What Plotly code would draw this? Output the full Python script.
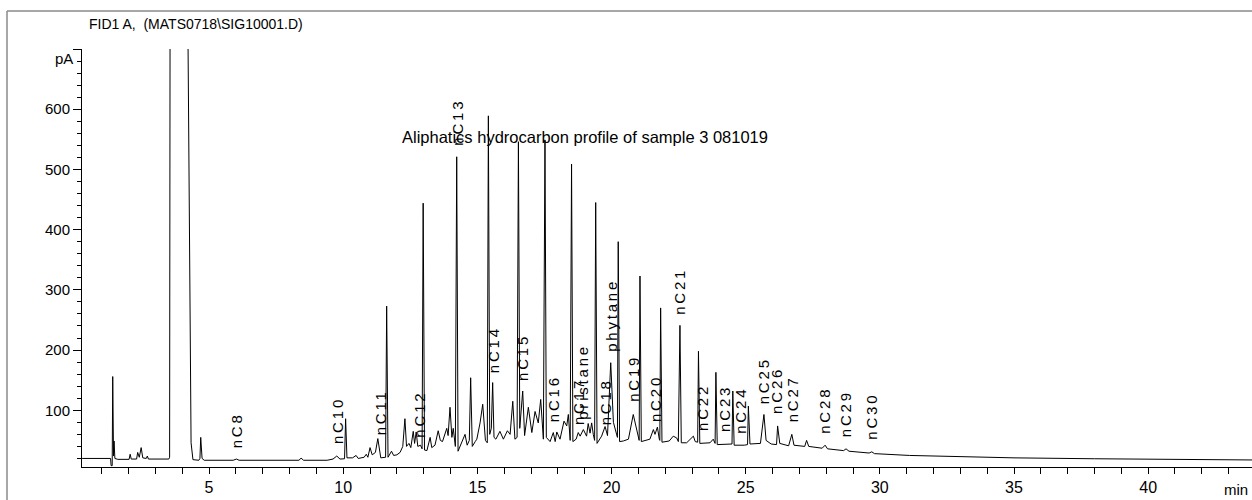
import plotly.graph_objects as go

# ---- chromatogram trace vertices (retention time in min, signal in pA) ----
rt = [0.27, 1.33, 1.35, 1.39, 1.41, 1.44, 1.46, 1.49, 1.60, 2.02, 2.06, 2.10, 2.30, 2.34, 2.40,
      2.47, 2.53, 2.66, 2.70, 2.74, 3.50, 3.53, 3.60, 4.21, 4.28, 4.33, 4.40, 4.62, 4.66, 4.69,
      4.74, 4.82, 5.90, 6.02, 6.12, 8.35, 8.43, 8.52, 9.40, 9.62, 9.76, 9.88, 10.05, 10.09, 10.14,
      10.35, 10.48, 10.56, 10.78, 10.86, 10.92, 11.00, 11.08, 11.20, 11.29, 11.40, 11.58, 11.62,
      11.67, 11.80, 11.88, 12.00, 12.12, 12.22, 12.30, 12.36, 12.45, 12.52, 12.61, 12.66, 12.72,
      12.78, 12.88, 12.94, 12.98, 13.03, 13.12, 13.24, 13.30, 13.42, 13.54, 13.62, 13.70, 13.80,
      13.86, 13.91, 13.98, 14.05, 14.10, 14.18, 14.23, 14.28, 14.36, 14.54, 14.62, 14.70, 14.75,
      14.81, 14.92, 14.98, 15.10, 15.20, 15.30, 15.37, 15.41, 15.46, 15.52, 15.57, 15.62, 15.69,
      15.84, 15.97, 16.12, 16.22, 16.32, 16.40, 16.48, 16.53, 16.58, 16.69, 16.76, 16.90, 17.03,
      17.15, 17.27, 17.36, 17.46, 17.52, 17.57, 17.71, 17.83, 17.90, 17.96, 18.08, 18.23, 18.33,
      18.39, 18.46, 18.51, 18.56, 18.68, 18.76, 18.83, 18.95, 19.07, 19.13, 19.20, 19.26, 19.32,
      19.37, 19.41, 19.46, 19.63, 19.76, 19.85, 19.97, 20.07, 20.19, 20.22, 20.25, 20.30, 20.44,
      20.63, 20.81, 20.94, 21.03, 21.06, 21.11, 21.43, 21.56, 21.62, 21.71, 21.78, 21.80, 21.83,
      21.88, 22.15, 22.30, 22.43, 22.49, 22.55, 22.60, 22.80, 22.93, 23.05, 23.12, 23.21, 23.24,
      23.29, 23.67, 23.79, 23.86, 23.89, 23.94, 24.35, 24.49, 24.52, 24.57, 24.95, 25.07, 25.10,
      25.16, 25.55, 25.68, 25.76, 25.95, 26.15, 26.19, 26.27, 26.60, 26.72, 26.80, 27.20, 27.27,
      27.35, 27.85, 27.96, 28.05, 28.65, 28.74, 28.85, 29.60, 29.70, 29.80, 31.10, 33.00, 35.00,
      38.00, 40.00, 43.87]
pa = [20, 20, 8, 8, 156, 24, 49, 20, 18.5, 18.5, 27, 19, 19, 30, 22,
      38, 21, 20, 24, 19, 19, 22, 3000, 750, 300, 46, 18, 17, 20, 55,
      20, 17, 17, 19, 17, 17, 20.5, 17, 17, 19, 24, 19, 19.5, 86, 21,
      21, 25, 20, 22, 27, 22, 38, 26, 30, 53, 21, 22, 273,
      22, 32, 25, 26, 30, 40, 86, 40, 45, 38, 65, 45, 64,
      40, 42, 36, 444, 34, 33, 55, 38, 42, 66, 50, 48, 60,
      70, 58, 105, 55, 70, 40, 521, 32, 40, 60, 42, 50, 154,
      40, 48, 52, 79, 110, 50, 46, 589, 60, 70, 146, 55, 52,
      65, 52, 66, 60, 115, 52, 55, 546, 70, 132, 58, 105, 63,
      98, 79, 118, 52, 549, 55, 48, 63, 48, 64, 52, 82, 74,
      93, 50, 509, 48, 52, 63, 57, 68, 57, 78, 62, 79, 60,
      50, 445, 45, 57, 73, 58, 179, 80, 60, 55, 380, 48, 49,
      52, 93, 70, 50, 323, 48, 52, 68, 60, 72, 52, 50, 270,
      47, 49, 57, 54, 48, 241, 46, 46, 52, 57, 48, 47, 198,
      45, 46, 52, 45, 163, 43, 44, 44, 132, 42, 42, 43, 107,
      44, 45, 93, 50, 44, 43, 74, 45, 41, 60, 42, 40, 50,
      40, 37, 42, 36, 33, 36, 32, 29, 31, 28, 25, 23, 21,
      19.5, 18.5, 17.5]

# ---- peak labels ----
label_text = ["nC8", "nC10", "nC11", "nC12", "nC13", "nC14", "nC15", "nC16", "nC17", "pristane",
              "nC18", "phytane", "nC19", "nC20", "nC21", "nC22", "nC23", "nC24", "nC25", "nC26",
              "nC27", "nC28", "nC29", "nC30"]
label_rt = [6.03, 9.81, 11.37, 12.86, 14.26, 15.58, 16.66, 17.82, 18.75, 18.94,
            19.76, 20.02, 20.84, 21.62, 22.55, 23.37, 24.23, 24.83, 25.65, 26.17,
            26.73, 27.96, 28.72, 29.71]
label_pa = [33, 40, 55, 52, 536, 159, 146, 76, 73, 81,
            71, 193, 110, 78, 256, 63, 60, 57, 106, 90,
            76, 57, 52, 47]

# ---- axes ----
x_tick_vals = list(range(1, 44))
x_tick_text = [str(v) if v % 5 == 0 else "" for v in x_tick_vals]
y_tick_vals = [100, 200, 300, 400, 500, 600, 700]
y_tick_text = ["100", "200", "300", "400", "500", "600", ""]

title_text = "FID1 A,  (MATS0718\\SIG10001.D)"
inner_title = "Aliphatics hydrocarbon profile of sample 3 081019"

NARROW = "Liberation Sans Narrow, Arial Narrow, Liberation Sans, Arial, sans-serif"
REG = "Liberation Sans, Arial, sans-serif"

fig = go.Figure()
fig.add_trace(go.Scatter(x=rt, y=pa, mode="lines",
                         line=dict(color="black", width=1), hoverinfo="skip"))

annotations = []
for t, x, y in zip(label_text, label_rt, label_pa):
    annotations.append(dict(
        x=x, y=y, xref="x", yref="y",
        text="<span style='letter-spacing:2.8px'>" + t + "</span>",
        textangle=-90, showarrow=False, xanchor="center", yanchor="bottom",
        font=dict(family=REG, size=15, color="black")))

annotations.append(dict(x=0.0043, y=1.06, xref="paper", yref="paper", text=title_text,
                        showarrow=False, xanchor="left", yanchor="middle",
                        font=dict(family=NARROW, size=14, color="black")))
annotations.append(dict(x=0.43, y=0.789, xref="paper", yref="paper", text=inner_title,
                        showarrow=False, xanchor="center", yanchor="middle",
                        font=dict(family=NARROW, size=16.5, color="black")))
annotations.append(dict(x=-0.006, y=0.978, xref="paper", yref="paper", text="pA",
                        showarrow=False, xanchor="right", yanchor="middle",
                        font=dict(family=NARROW, size=15, color="black")))
annotations.append(dict(x=0.974, y=-0.055, xref="paper", yref="paper", text="min",
                        showarrow=False, xanchor="left", yanchor="middle",
                        font=dict(family=NARROW, size=15, color="black")))

shapes = [
    dict(type="line", xref="paper", yref="paper", x0=-0.0641, y0=1.0909, x1=1.0, y1=1.0909,
         line=dict(color="#8a8a8a", width=1.5)),
    dict(type="line", xref="paper", yref="paper", x0=-0.0641, y0=1.0909, x1=-0.0641, y1=-0.08,
         line=dict(color="#8a8a8a", width=1.5)),
]

fig.update_layout(
    width=1252, height=500,
    margin=dict(l=82, r=0, t=49, b=33),
    paper_bgcolor="white", plot_bgcolor="white",
    showlegend=False,
    annotations=annotations,
    shapes=shapes,
    xaxis=dict(range=[0.265, 43.87], showgrid=False, zeroline=False,
               showline=True, linecolor="black", linewidth=1,
               ticks="outside", ticklen=6, tickcolor="black", tickwidth=1,
               tickmode="array", tickvals=x_tick_vals, ticktext=x_tick_text,
               tickfont=dict(family=NARROW, size=16, color="black")),
    yaxis=dict(range=[5.8, 700], showgrid=False, zeroline=False,
               showline=True, linecolor="black", linewidth=1,
               ticks="outside", ticklen=8, tickcolor="black", tickwidth=1,
               tickmode="array", tickvals=y_tick_vals, ticktext=y_tick_text,
               tickfont=dict(family=NARROW, size=15, color="black"),
               minor=dict(tickmode="linear", tick0=0, dtick=20, ticks="outside",
                          ticklen=4, tickcolor="black", showgrid=False)),
)

fig.write_html("out.html")
